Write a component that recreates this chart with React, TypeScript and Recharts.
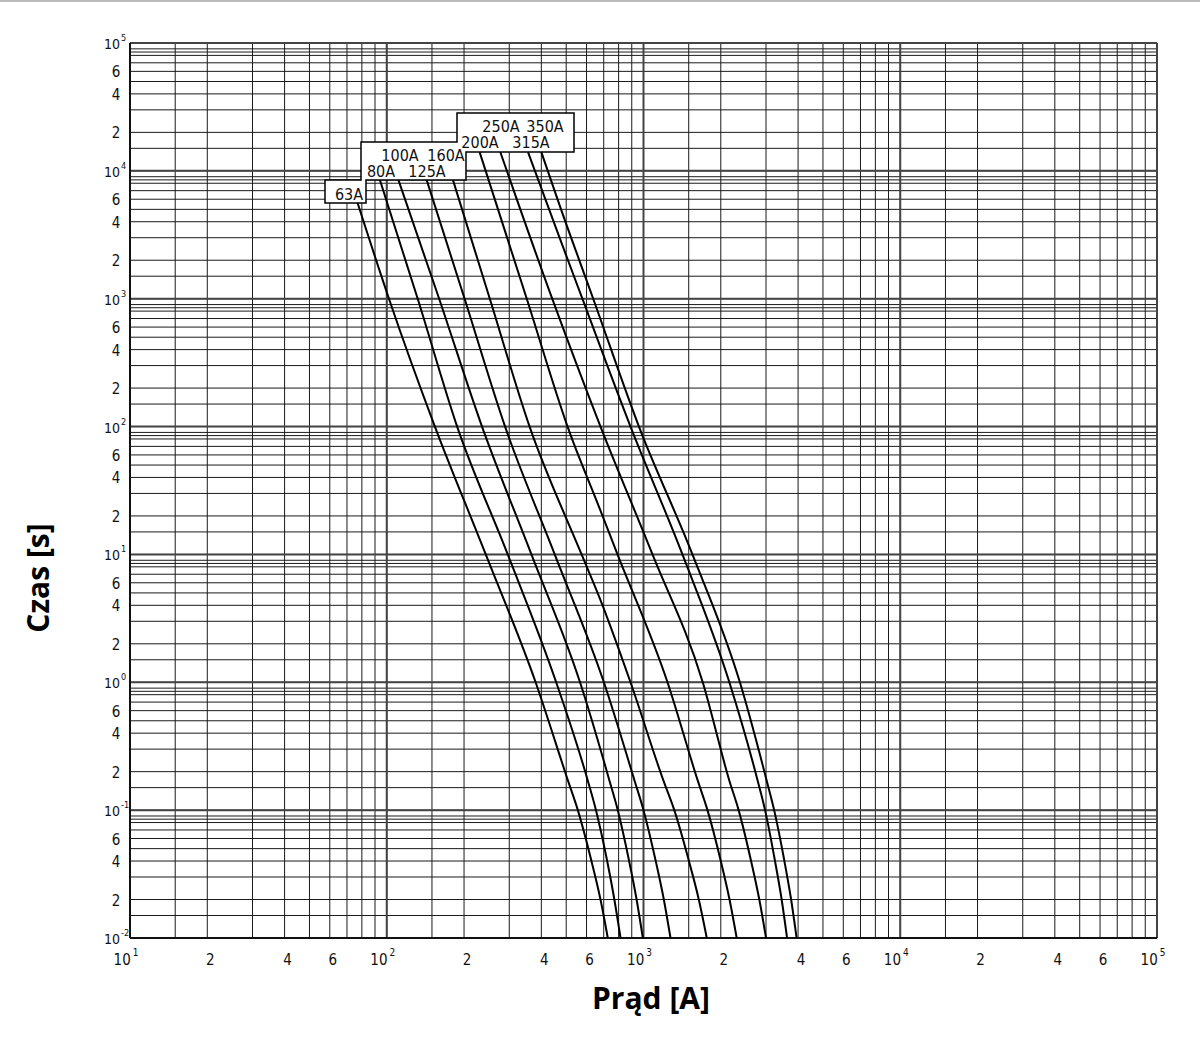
import React from 'react';
import { LineChart, Line, XAxis, YAxis, CartesianGrid, ReferenceLine } from 'recharts';

// Melting curves: current [A] and time [s]
const current63 = [77, 102, 154, 243, 380, 508, 555, 627, 680, 726];
const time63 = [5600, 1000, 100, 10, 1, 0.17, 0.1, 0.04, 0.02, 0.01];
const current80 = [94, 132, 188, 296, 457, 607, 653, 722, 770, 814];
const time80 = [8500, 1000, 100, 10, 1, 0.17, 0.1, 0.04, 0.02, 0.01];
const current100 = [111, 160, 235, 366, 566, 737, 794, 879, 940, 994];
const time100 = [8500, 1000, 100, 10, 1, 0.17, 0.1, 0.04, 0.02, 0.01];
const current125 = [143, 201, 289, 451, 701, 923, 1000, 1116, 1200, 1274];
const time125 = [8500, 1000, 100, 10, 1, 0.17, 0.1, 0.04, 0.02, 0.01];
const current160 = [181, 252, 360, 574, 674, 890, 1196, 1318, 1503, 1642, 1764];
const time160 = [8500, 1000, 100, 10, 4.6, 1, 0.17, 0.1, 0.04, 0.02, 0.01];
const current200 = [230, 351, 506, 674, 792, 1240, 1627, 1775, 2000, 2163, 2307];
const time200 = [14000, 1000, 100, 23, 10, 1, 0.17, 0.1, 0.04, 0.02, 0.01];
const current250 = [277, 441, 680, 1084, 1701, 2160, 2347, 2624, 2825, 3002];
const time250 = [14000, 1000, 100, 10, 1, 0.17, 0.1, 0.04, 0.02, 0.01];
const current315 = [355, 471, 578, 890, 1418, 2160, 2784, 2975, 3252, 3452, 3624];
const time315 = [14000, 3000, 1000, 100, 10, 1, 0.17, 0.1, 0.04, 0.02, 0.01];
const current350 = [400, 471, 637, 960, 1551, 2374, 3019, 3228, 3538, 3758, 3948];
const time350 = [14000, 5400, 1000, 100, 10, 1, 0.17, 0.1, 0.04, 0.02, 0.01];

// grid lines inside each decade
const xMantissas = [1, 1.5, 2, 3, 4, 5, 6, 7, 8, 9];
const yMantissas = [1, 1.5, 2, 3, 4, 5, 6, 7, 8, 8.5, 9];
const xDecades = [1, 2, 3, 4];
const yDecades = [-2, -1, 0, 1, 2, 3, 4];
const labelledMantissas = [2, 4, 6];

const W = 1200;
const H = 1052;
const LEFT = 130;
const TOP = 43;
const RIGHT = 1157;
const BOTTOM = 938;

const FONT = "'Liberation Sans Narrow', 'DejaVu Sans Condensed', 'Roboto Condensed', sans-serif";

const zip = (xs: number[], ys: number[]) => xs.map((c, i) => ({ current: c, time: ys[i] }));

const curves = [
  zip(current63, time63),
  zip(current80, time80),
  zip(current100, time100),
  zip(current125, time125),
  zip(current160, time160),
  zip(current200, time200),
  zip(current250, time250),
  zip(current315, time315),
  zip(current350, time350),
];

const xTicks = [
  ...xDecades.flatMap((d) => xMantissas.map((m) => +(m * 10 ** d).toPrecision(6))),
  100000,
];
const yTicks = [
  ...yDecades.flatMap((d) => yMantissas.map((m) => +(m * 10 ** d).toPrecision(6))),
  100000,
];
const xDecadeValues = [10, 100, 1000, 10000, 100000];
const yDecadeValues = [0.01, 0.1, 1, 10, 100, 1000, 10000, 100000];

const split = (v: number) => {
  const e = Math.floor(Math.log10(v) + 1e-9);
  const m = Math.round((v / 10 ** e) * 10) / 10;
  return { e, m };
};

const XTick = (props: any) => {
  const { x, payload } = props;
  const { e, m } = split(payload.value);
  if (m === 1) {
    return (
      <text x={x - 4} y={BOTTOM + 27} textAnchor="middle" fontFamily={FONT} fontSize={15} fill="#111">
        10
        <tspan dy={-9} dx={2} fontSize={10}>{e}</tspan>
      </text>
    );
  }
  if (labelledMantissas.includes(m)) {
    return (
      <text x={x + 3} y={BOTTOM + 27} textAnchor="middle" fontFamily={FONT} fontSize={15} fill="#111">
        {m}
      </text>
    );
  }
  return <g />;
};

const YTick = (props: any) => {
  const { y, payload } = props;
  const { e, m } = split(payload.value);
  if (m === 1) {
    return (
      <text x={104} y={y + 6} textAnchor="start" fontFamily={FONT} fontSize={14} fill="#111">
        10
        <tspan dy={-8} dx={1} fontSize={9}>{e}</tspan>
      </text>
    );
  }
  if (labelledMantissas.includes(m)) {
    return (
      <text x={116} y={y + 6} textAnchor="middle" fontFamily={FONT} fontSize={15} fill="#111">
        {m}
      </text>
    );
  }
  return <g />;
};

// stepped label box above the curves
const LabelBox = () => {
  const pts = [
    [325, 180], [325, 203], [366, 203], [366, 180], [466, 180], [466, 152],
    [574, 152], [574, 113], [457, 113], [457, 142], [361, 142], [361, 180],
  ];
  const labels: [string, number, number][] = [
    ['63A', 349, 200],
    ['80A', 381, 177],
    ['125A', 427, 177],
    ['100A', 400, 161],
    ['160A', 446, 161],
    ['200A', 480, 148],
    ['315A', 531, 148],
    ['250A', 501, 132],
    ['350A', 545, 132],
  ];
  return (
    <svg width={W} height={H} style={{ position: 'absolute', left: 0, top: 0, pointerEvents: 'none' }}>
      <polygon points={pts.map((p) => p.join(',')).join(' ')} fill="#fff" stroke="#000" strokeWidth={1.5} />
      {labels.map(([t, x, y]) => (
        <text key={t} x={x} y={y} textAnchor="middle" fontFamily={FONT} fontSize={16} fill="#111">
          {t}
        </text>
      ))}
      <text
        x={651}
        y={1009}
        textAnchor="middle"
        fontFamily="'Open Sans', 'Noto Sans', sans-serif"
        fontWeight={700}
        fontSize={30}
        fill="#000"
      >
        Prąd [A]
      </text>
      <text
        x={0}
        y={0}
        transform="translate(49,578) rotate(-90)"
        textAnchor="middle"
        fontFamily="'Open Sans', 'Noto Sans', sans-serif"
        fontWeight={700}
        fontSize={30}
        fill="#000"
      >
        Czas [s]
      </text>
    </svg>
  );
};

export default function App() {
  return (
    <div style={{ position: 'absolute', left: 0, top: 0, width: W, height: H, background: '#fff' }}>
      <div style={{ position: 'absolute', left: 0, top: 0, width: W, height: 2, background: '#bbb' }} />
      <LineChart
        width={W}
        height={H}
        margin={{ top: TOP, right: W - RIGHT, bottom: 0, left: 0 }}
      >
        <CartesianGrid stroke="#1a1a1a" strokeWidth={1} />
        <XAxis
          dataKey="current"
          type="number"
          scale="log"
          domain={[10, 100000]}
          allowDataOverflow
          ticks={xTicks}
          interval={0}
          tick={<XTick />}
          tickLine={false}
          axisLine={{ stroke: '#000', strokeWidth: 1.5 }}
          height={H - BOTTOM}
        />
        <YAxis
          type="number"
          scale="log"
          domain={[0.01, 100000]}
          allowDataOverflow
          ticks={yTicks}
          interval={0}
          tick={<YTick />}
          tickLine={false}
          axisLine={{ stroke: '#000', strokeWidth: 1.5 }}
          width={LEFT}
        />
        {xDecadeValues.map((v) => (
          <ReferenceLine key={'x' + v} x={v} stroke="#444" strokeWidth={2} />
        ))}
        {yDecadeValues.map((v) => (
          <ReferenceLine key={'y' + v} y={v} stroke="#444" strokeWidth={2} />
        ))}
        {curves.map((d, i) => (
          <Line
            key={i}
            data={d}
            dataKey="time"
            type="monotone"
            stroke="#000"
            strokeWidth={2}
            dot={false}
            isAnimationActive={false}
          />
        ))}
      </LineChart>
      <LabelBox />
    </div>
  );
}
